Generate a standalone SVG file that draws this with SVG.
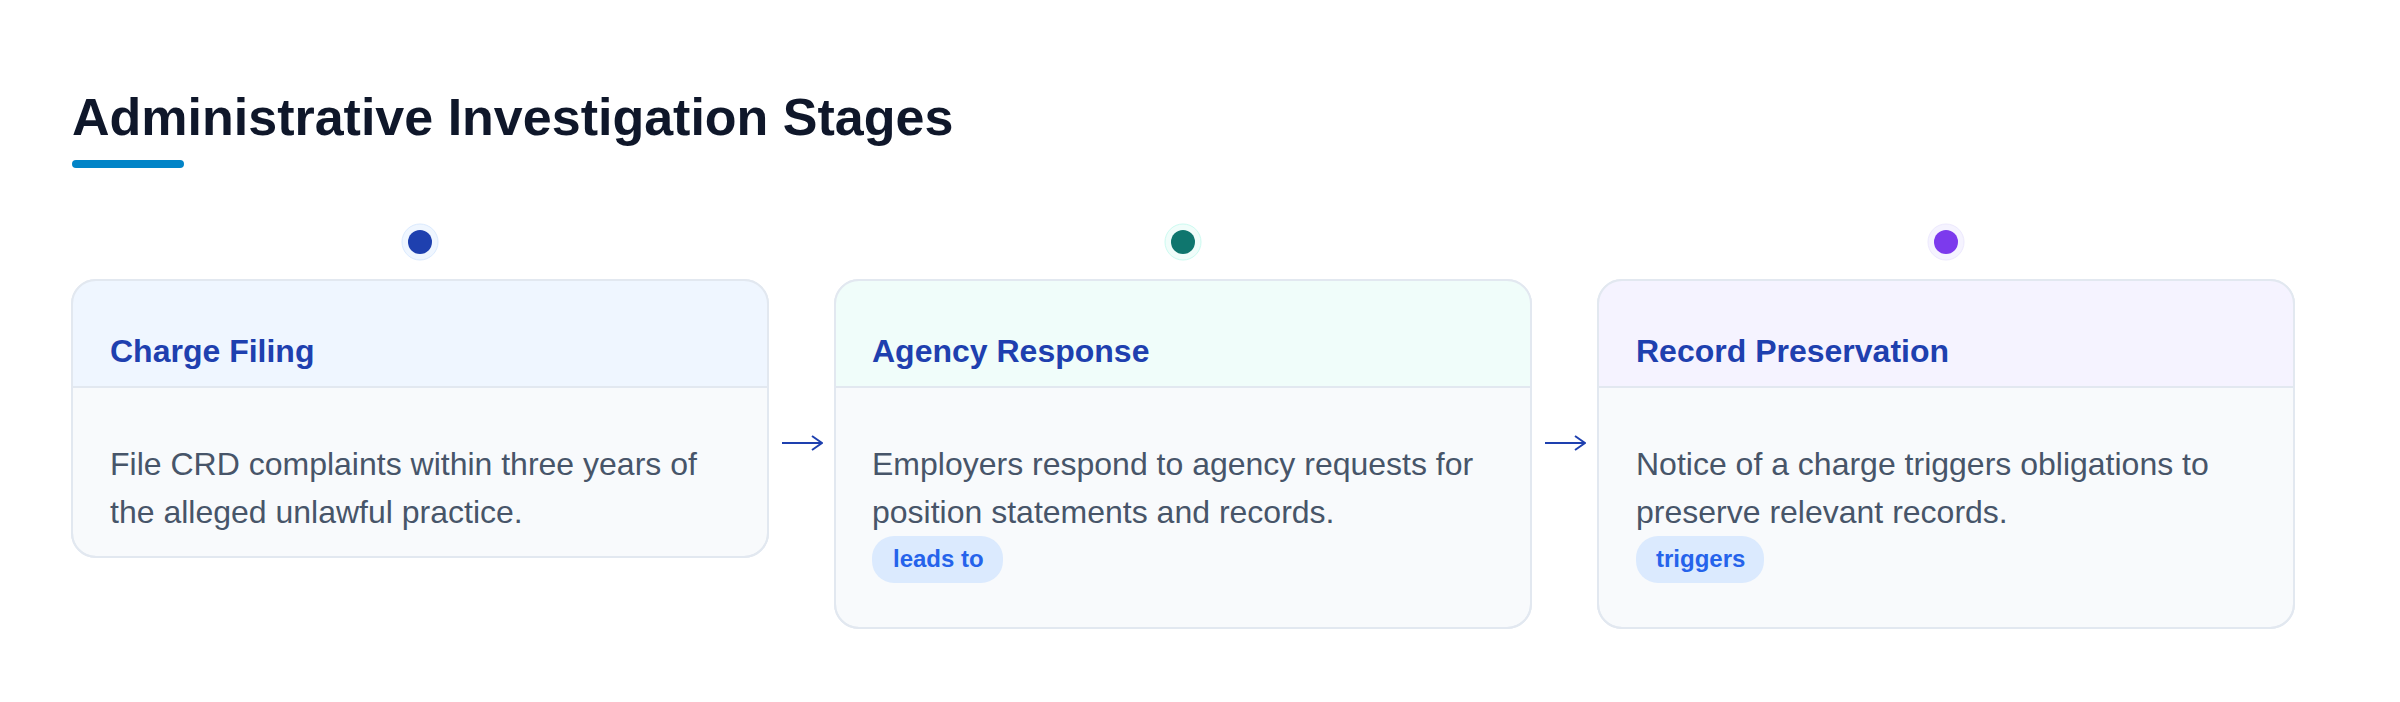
<svg xmlns="http://www.w3.org/2000/svg" width="2400" height="702" viewBox="0 0 2400 702">
<style>
.title{font-family:"Liberation Sans",Arial,sans-serif;font-weight:700;font-size:52px;fill:#0f172a}
.card{fill:#f8fafc;stroke:#e2e8f0;stroke-width:2}
.divider{stroke:#e2e8f0;stroke-width:2}
.head{font-family:"Liberation Sans",Arial,sans-serif;font-weight:700;font-size:32px;fill:#1e40af}
.body{font-family:"Liberation Sans",Arial,sans-serif;font-size:32px;fill:#475569}
.badge{fill:#dbeafe}
.badgetext{font-family:"Liberation Sans",Arial,sans-serif;font-weight:700;font-size:24px;fill:#2563eb}
.conn{stroke:#1e40af;stroke-width:2;fill:none}
</style>
<defs>
<marker id="arrow" viewBox="0 0 12 16" refX="11" refY="8" markerWidth="12" markerHeight="16" markerUnits="userSpaceOnUse" orient="auto">
<path d="M1,1 L11,8 L1,15" fill="none" stroke="#1e40af" stroke-width="2"/>
</marker>
<clipPath id="c1"><rect x="72" y="280" width="696" height="277" rx="24"/></clipPath>
<clipPath id="c2"><rect x="835" y="280" width="696" height="348" rx="24"/></clipPath>
<clipPath id="c3"><rect x="1598" y="280" width="696" height="348" rx="24"/></clipPath>
</defs>
<rect width="2400" height="702" fill="#ffffff"/>
<g id="header">
<text class="title" x="72" y="135">Administrative Investigation Stages</text>
<rect x="72" y="160" width="112" height="8" rx="4" fill="#0284c7"/>
</g>
<g id="node-charge-filing">
<circle cx="420" cy="242" r="18" fill="#eff6ff" stroke="#dbeafe" stroke-width="1"/>
<circle cx="420" cy="242" r="12" fill="#1e40af"/>
<rect class="card" x="72" y="280" width="696" height="277" rx="24"/>
<rect x="72" y="280" width="696" height="107" fill="#eff6ff" clip-path="url(#c1)"/>
<rect x="72" y="280" width="696" height="277" rx="24" fill="none" stroke="#e2e8f0" stroke-width="2"/>
<line class="divider" x1="72" y1="387" x2="768" y2="387"/>
<text class="head" x="110" y="362">Charge Filing</text>
<text class="body" x="110" y="475">File CRD complaints within three years of</text>
<text class="body" x="110" y="523">the alleged unlawful practice.</text>
</g>
<g id="node-agency-response">
<circle cx="1183" cy="242" r="18" fill="#f0fdfa" stroke="#ccfbf1" stroke-width="1"/>
<circle cx="1183" cy="242" r="12" fill="#0f766e"/>
<rect class="card" x="835" y="280" width="696" height="348" rx="24"/>
<rect x="835" y="280" width="696" height="107" fill="#f0fdfa" clip-path="url(#c2)"/>
<rect x="835" y="280" width="696" height="348" rx="24" fill="none" stroke="#e2e8f0" stroke-width="2"/>
<line class="divider" x1="835" y1="387" x2="1531" y2="387"/>
<text class="head" x="872" y="362">Agency Response</text>
<text class="body" x="872" y="475">Employers respond to agency requests for</text>
<text class="body" x="872" y="523">position statements and records.</text>
<rect class="badge" x="872" y="536" width="131" height="47" rx="22"/>
<text class="badgetext" x="893" y="567">leads to</text>
</g>
<g id="node-record-preservation">
<circle cx="1946" cy="242" r="18" fill="#f5f3ff" stroke="#ede9fe" stroke-width="1"/>
<circle cx="1946" cy="242" r="12" fill="#7c3aed"/>
<rect class="card" x="1598" y="280" width="696" height="348" rx="24"/>
<rect x="1598" y="280" width="696" height="107" fill="#f5f3ff" clip-path="url(#c3)"/>
<rect x="1598" y="280" width="696" height="348" rx="24" fill="none" stroke="#e2e8f0" stroke-width="2"/>
<line class="divider" x1="1598" y1="387" x2="2294" y2="387"/>
<text class="head" x="1636" y="362">Record Preservation</text>
<text class="body" x="1636" y="475">Notice of a charge triggers obligations to</text>
<text class="body" x="1636" y="523">preserve relevant records.</text>
<rect class="badge" x="1636" y="536" width="128" height="47" rx="22"/>
<text class="badgetext" x="1656" y="567">triggers</text>
</g>
<g id="connectors">
<line class="conn" x1="782" y1="443" x2="822" y2="443" marker-end="url(#arrow)"/>
<line class="conn" x1="1545" y1="443" x2="1585" y2="443" marker-end="url(#arrow)"/>
</g>
</svg>
